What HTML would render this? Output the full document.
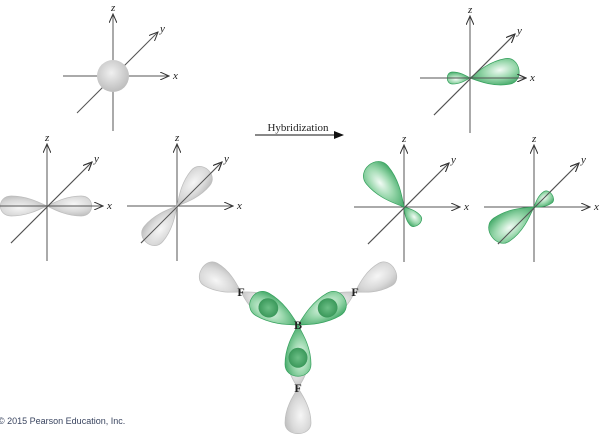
<!DOCTYPE html>
<html><head><meta charset="utf-8">
<style>
html,body{margin:0;padding:0;background:#fff;}
svg{display:block;}
text{font-family:"Liberation Serif",serif;font-style:italic;font-size:11px;fill:#222;}
</style></head>
<body>
<svg id="fig" width="606" height="441" viewBox="0 0 606 441" xmlns="http://www.w3.org/2000/svg">
<defs>
<radialGradient id="gray" cx="0.6" cy="0.4" r="0.7">
<stop offset="0" stop-color="#f6f6f6"/><stop offset="0.55" stop-color="#d9d9d9"/><stop offset="1" stop-color="#b6b6b6"/>
</radialGradient>
<radialGradient id="green" cx="0.62" cy="0.4" r="0.7">
<stop offset="0" stop-color="#f2fbf5"/><stop offset="0.45" stop-color="#9ad8ad"/><stop offset="1" stop-color="#2f9e58"/>
</radialGradient>
<radialGradient id="sphere" cx="0.45" cy="0.4" r="0.65">
<stop offset="0" stop-color="#f0f0f0"/><stop offset="1" stop-color="#b9b9b9"/>
</radialGradient>
<radialGradient id="dark" cx="0.5" cy="0.5" r="0.5">
<stop offset="0" stop-color="#6cbf86"/><stop offset="1" stop-color="#3a985a"/>
</radialGradient>
<marker id="arr" markerWidth="10" markerHeight="8" refX="9" refY="4" orient="auto" markerUnits="userSpaceOnUse">
<path d="M0,0 L9,4 L0,8" fill="none" stroke="#333" stroke-width="1"/>
</marker>
<marker id="arrf" markerWidth="10" markerHeight="8" refX="9" refY="4" orient="auto" markerUnits="userSpaceOnUse">
<path d="M0,0 L10,4 L0,8 Z" fill="#111"/>
</marker>
</defs>
<g id="content"></g>
<text x="298" y="131" text-anchor="middle" style="font-style:normal;font-size:11px">Hybridization</text>
<line x1="255" y1="135" x2="343" y2="135" stroke="#111" stroke-width="1" marker-end="url(#arrf)"/>
<text x="-2" y="424" style="font-family:'Liberation Sans',sans-serif;font-style:normal;font-size:9px;fill:#3a4560">© 2015 Pearson Education, Inc.</text>
</svg>
<script>
const NS='http://www.w3.org/2000/svg';
const g=document.getElementById('content');
function el(tag,attrs,parent){const e=document.createElementNS(NS,tag);for(const k in attrs)e.setAttribute(k,attrs[k]);(parent||g).appendChild(e);return e;}
function lobe(ox,oy,ang,L,w,fill,name,parent){
  const d=`M0,0 C${0.2*L},${-0.45*w} ${0.45*L},${-w} ${0.76*L},${-w} C${1.07*L},${-w} ${1.07*L},${w} ${0.76*L},${w} C${0.45*L},${w} ${0.2*L},${0.45*w} 0,0 Z`;
  const p=el('path',{d:d,fill:'url(#'+fill+')',stroke:fill==='green'?'#35a15d':'#bdbdbd','stroke-width':0.7,transform:`translate(${ox},${oy}) rotate(${ang})`},parent);
  
  
  return p;
}
function axes(ox,oy,name){
  const a=el('g',{});
  
  
  el('line',{x1:ox,y1:oy+55,x2:ox,y2:oy-62,stroke:'#555','stroke-width':1,'marker-end':'url(#arr)'},a);
  el('line',{x1:ox-50,y1:oy,x2:ox+56,y2:oy,stroke:'#555','stroke-width':1,'marker-end':'url(#arr)'},a);
  el('line',{x1:ox-36,y1:oy+37,x2:ox+45,y2:oy-44,stroke:'#555','stroke-width':1,'marker-end':'url(#arr)'},a);
  const tz=el('text',{x:ox-2,y:oy-65},a);tz.textContent='z';
  const tx=el('text',{x:ox+60,y:oy+3},a);tx.textContent='x';
  const ty=el('text',{x:ox+47,y:oy-44},a);ty.textContent='y';
  return a;
}
function drawAxesOver(ox,oy){
  el('line',{x1:ox-36,y1:oy+37,x2:ox+45,y2:oy-44,stroke:'#555','stroke-width':1,'marker-end':'url(#arr)'});
}
axes(113,76,'s-orbital-axes');
const s=el('circle',{cx:113,cy:76,r:16,fill:'url(#sphere)'});



axes(47,206,'px-axes');
lobe(47,206,0,45,10,'gray','px-lobe-right');
lobe(47,206,180,47,10,'gray','px-lobe-left');
el('line',{x1:0,y1:206,x2:100,y2:206,stroke:'#555','stroke-width':1});
drawAxesOver(47,206);

axes(177,206,'py-axes');
lobe(177,206,-50,48,12,'gray','py-lobe-upper');
lobe(177,206,130,48,12,'gray','py-lobe-lower');
drawAxesOver(177,206);

axes(470,78,'sp2-1-axes');
lobe(470,78,-10,50,13,'green','sp2-1-big-lobe');
lobe(470,78,180,23,6,'green','sp2-1-small-lobe');
el('line',{x1:420,y1:78,x2:526,y2:78,stroke:'#555','stroke-width':1,'marker-end':'url(#arr)'});
drawAxesOver(470,78);

axes(404,207,'sp2-2-axes');
lobe(404,207,-130,55,14,'green','sp2-2-big-lobe');
lobe(404,207,50,23,7,'green','sp2-2-small-lobe');
drawAxesOver(404,207);

axes(534,207,'sp2-3-axes');
lobe(534,207,145,52,14,'green','sp2-3-big-lobe');
lobe(534,207,-35,22,7,'green','sp2-3-small-lobe');
drawAxesOver(534,207);

const bx=298,by=325;
const fl=[[241,292],[355,292],[298,388]];
const names=['left','right','bottom'];
fl.forEach((f,i)=>{
  const dx=f[0]-bx,dy=f[1]-by;const ang=Math.atan2(dy,dx)*180/Math.PI;const L=Math.hypot(dx,dy);
  lobe(f[0],f[1],ang,46,13,'gray','f-'+names[i]+'-outer-lobe');
  lobe(f[0],f[1],ang+180,L*0.55,10,'gray','f-'+names[i]+'-inner-lobe');
  lobe(bx,by,ang,L*0.82,13,'green','b-'+names[i]+'-hybrid-lobe');
  const cx=bx+dx*0.52,cy=by+dy*0.52;
  const c=el('ellipse',{cx:cx,cy:cy,rx:10,ry:9.5,fill:'url(#dark)',transform:`rotate(${ang} ${cx} ${cy})`});
  
  
  const t=el('text',{x:f[0],y:f[1]+4,'text-anchor':'middle',style:'font-style:normal;font-size:12px;font-weight:bold'});
  t.textContent='F';
  
  
});
const b=el('text',{x:bx,y:by+4,'text-anchor':'middle',style:'font-style:normal;font-size:12px;font-weight:bold'});
b.textContent='B';


</script>
</body></html>
